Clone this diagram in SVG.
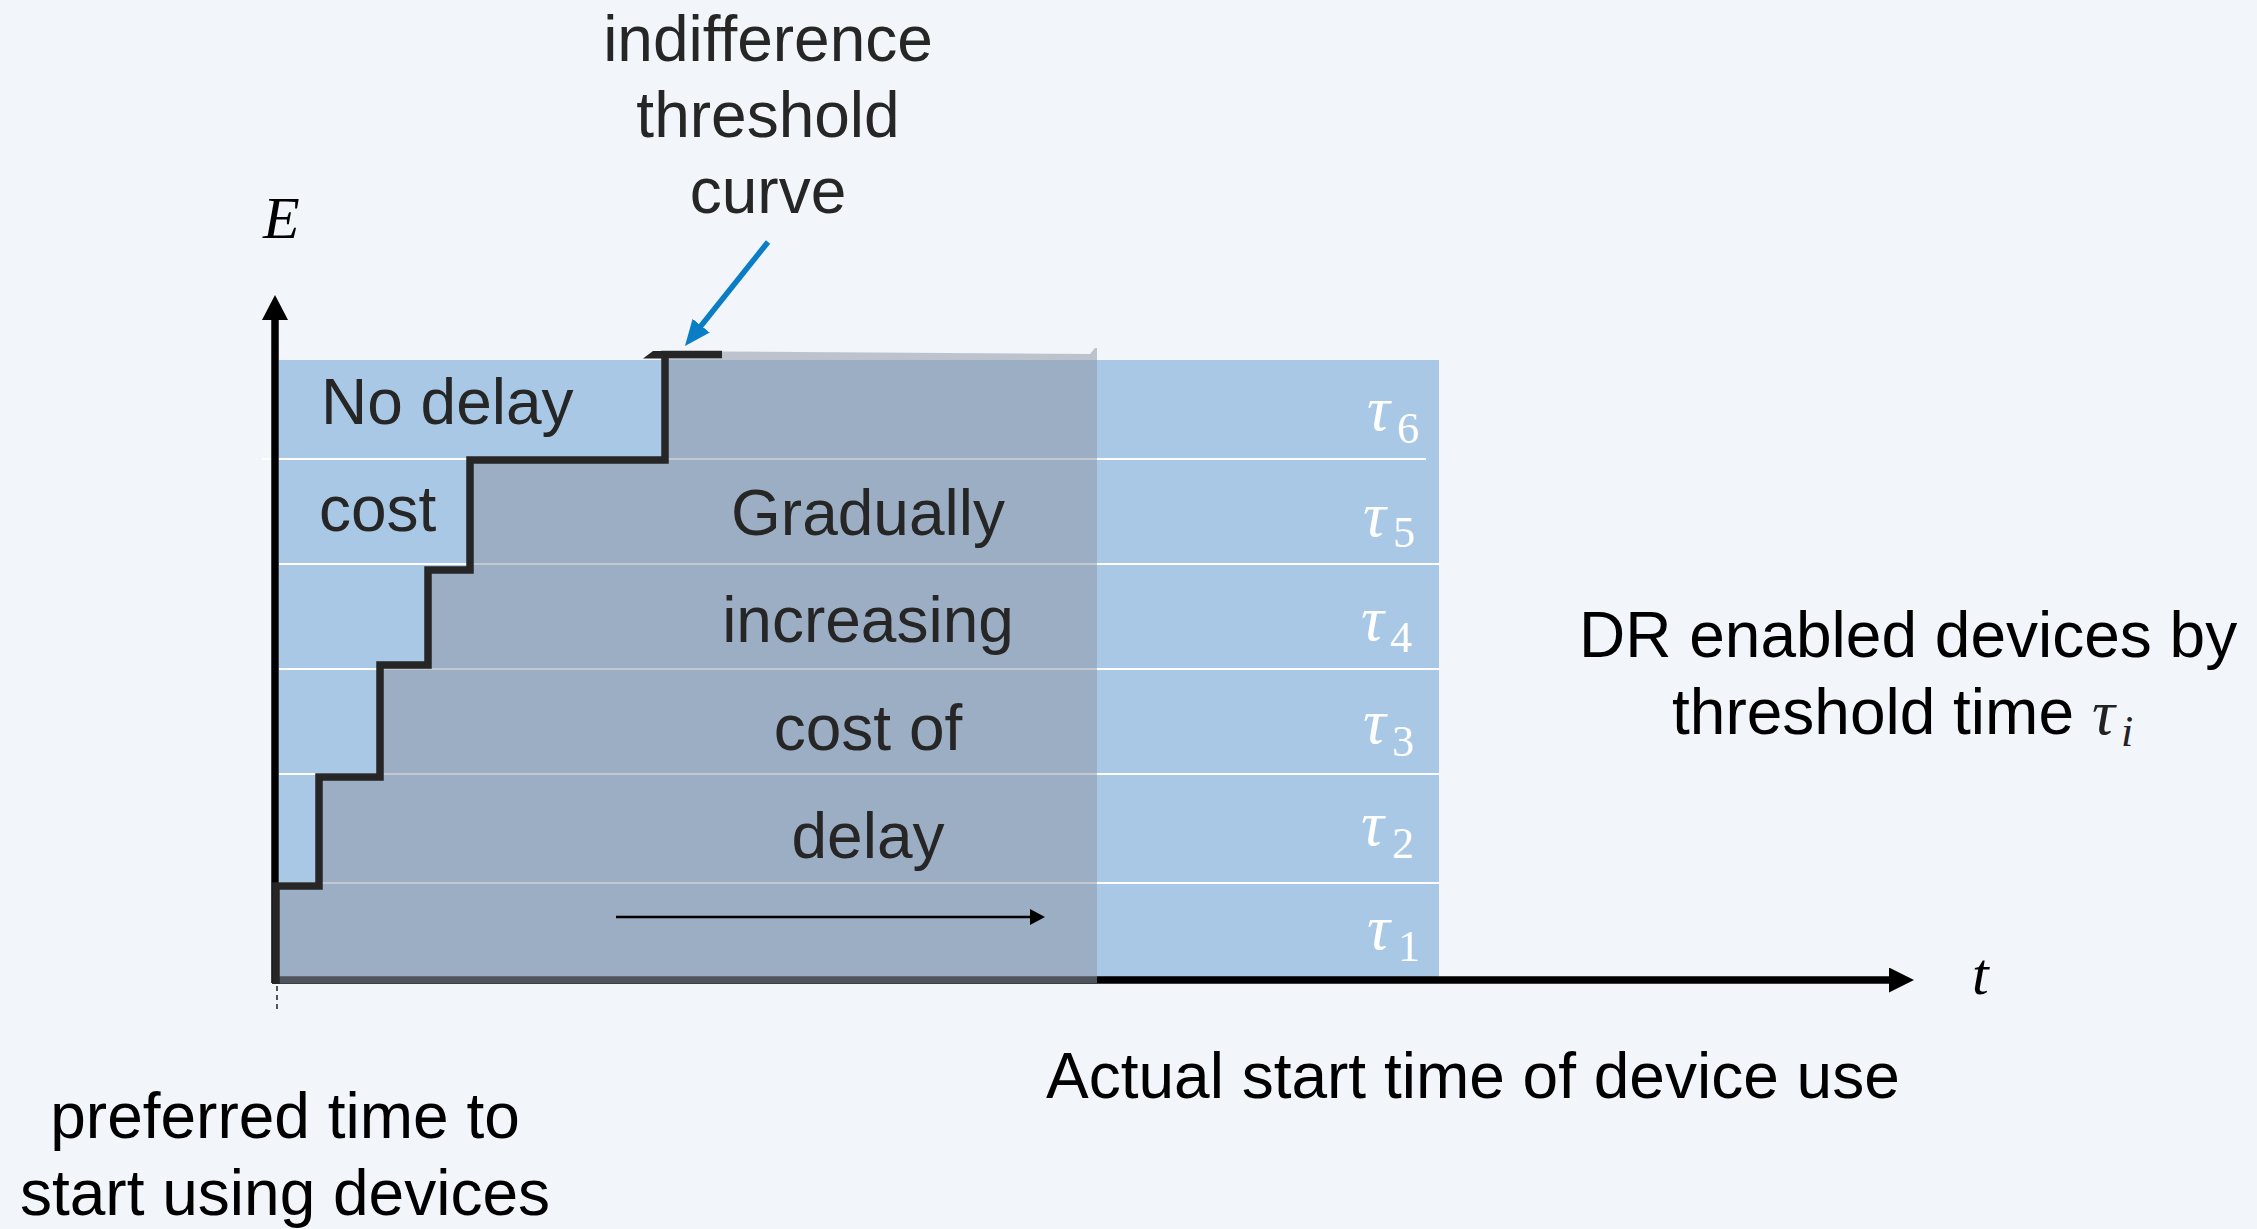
<svg xmlns="http://www.w3.org/2000/svg" width="2257" height="1229" viewBox="0 0 2257 1229">
  <style>
    .lbl { font-family: "Liberation Sans", Arial, sans-serif; font-size: 64px; }
    .dark { fill: #262626; }
    .black { fill: #000000; }
    .mid { text-anchor: middle; }
    .math { font-family: "Liberation Serif", "DejaVu Serif", serif; font-style: italic; }
    .tau { font-family: "Liberation Serif", "DejaVu Serif", serif; font-style: italic; font-size: 64px; fill: #ffffff; }
    .sub { font-family: "Liberation Serif", "DejaVu Serif", serif; font-size: 44px; fill: #ffffff; }
    .row { stroke: #ffffff; stroke-width: 2; }
    .stairs { fill: none; stroke: #262626; stroke-width: 7.5; stroke-linejoin: miter; stroke-linecap: butt; }
  </style>
  <defs>
    <marker id="axisHeadX" markerUnits="userSpaceOnUse" markerWidth="25" markerHeight="25" refX="6" refY="12.5" orient="auto">
      <path d="M0,0 L25,12.5 L0,25 z" fill="#000000"/>
    </marker>
    <marker id="axisHeadY" markerUnits="userSpaceOnUse" markerWidth="25" markerHeight="26" refX="5" refY="13" orient="auto">
      <path d="M0,0 L25,13 L0,26 z" fill="#000000"/>
    </marker>
    <marker id="smallHead" markerUnits="userSpaceOnUse" markerWidth="15" markerHeight="16" refX="2" refY="8" orient="auto">
      <path d="M0,0 L15,8 L0,16 z" fill="#000000"/>
    </marker>
    <marker id="blueHead" markerUnits="userSpaceOnUse" markerWidth="26" markerHeight="22" refX="4" refY="11" orient="auto">
      <path d="M0,0 L26,11 L0,22 z" fill="#0A7DC5"/>
    </marker>
  </defs>

  <!-- page background -->
  <rect x="0" y="0" width="2257" height="1229" fill="#F2F5F9"/>

  <!-- device bands by threshold time -->
  <g id="bands">
    <rect x="279" y="360" width="1160" height="617" fill="#A8C8E6"/>
    <line class="row" x1="262" y1="459" x2="1426" y2="459"/>
    <line class="row" x1="279" y1="564" x2="1439" y2="564"/>
    <line class="row" x1="279" y1="669" x2="1439" y2="669"/>
    <line class="row" x1="279" y1="774" x2="1439" y2="774"/>
    <line class="row" x1="279" y1="883" x2="1439" y2="883"/>
  </g>

  <!-- axes and connectors -->
  <g id="connectors">
    <line id="x-axis" x1="272" y1="980" x2="1895" y2="980" stroke="#000000" stroke-width="7.5" marker-end="url(#axisHeadX)"/>
    <line id="y-axis" x1="275" y1="983" x2="275" y2="315" stroke="#000000" stroke-width="7.5" marker-end="url(#axisHeadY)"/>
    <line id="origin-tick" x1="277" y1="986" x2="277" y2="1010" stroke="#555555" stroke-width="2" stroke-dasharray="5 4"/>
  </g>

  <!-- delay-cost region (translucent shading bounded by the staircase) -->
  <g id="delay-region">
    <polygon points="276,983 276,886 319,886 319,777 380,777 380,665 428,665 428,570 470,570 470,460 665,460 665,352 722,351.5 1090,354 1095,348 1097,348 1097,983" fill="rgb(146,153,168)" fill-opacity="0.55"/>
  </g>

  <!-- indifference threshold curve -->
  <g id="threshold-curve">
    <path class="stairs" d="M276,984 V886 H319 V777 H380 V665 H428 V570 H470 V460 H665 V354.5 H722"/>
    <polygon points="643,358.5 653,351 666,351 666,358.5" fill="#262626"/>
  </g>

  <g id="connectors-inner">
    <line x1="616" y1="917" x2="1032" y2="917" stroke="#000000" stroke-width="2.5" marker-end="url(#smallHead)"/>
    <line x1="768" y1="242" x2="698.7" y2="328.8" stroke="#0A7DC5" stroke-width="5.5" marker-end="url(#blueHead)"/>
  </g>

  <!-- labels -->
  <g id="label-indifference">
    <text class="lbl dark mid" x="768" y="61">indifference</text>
    <text class="lbl dark mid" x="768" y="137">threshold</text>
    <text class="lbl dark mid" x="768" y="213">curve</text>
  </g>

  <g id="label-axis-E">
    <text class="math" x="263" y="238" font-size="60" fill="#000000">E</text>
  </g>
  <g id="label-axis-t">
    <text class="math" x="1972" y="994" font-size="60" fill="#000000">t</text>
  </g>

  <g id="label-no-delay">
    <text class="lbl dark" x="321" y="424">No delay</text>
    <text class="lbl dark" x="319" y="531">cost</text>
  </g>

  <g id="label-gradual">
    <text class="lbl dark mid" x="868" y="535">Gradually</text>
    <text class="lbl dark mid" x="868" y="642">increasing</text>
    <text class="lbl dark mid" x="868" y="750">cost of</text>
    <text class="lbl dark mid" x="868" y="858">delay</text>
  </g>

  <g id="tau-labels">
    <text class="tau" x="1367" y="430">τ</text><text class="sub" x="1397" y="443">6</text>
    <text class="tau" x="1363" y="536">τ</text><text class="sub" x="1393" y="547">5</text>
    <text class="tau" x="1361" y="640">τ</text><text class="sub" x="1390" y="652">4</text>
    <text class="tau" x="1363" y="743">τ</text><text class="sub" x="1392" y="756">3</text>
    <text class="tau" x="1361" y="845">τ</text><text class="sub" x="1392" y="858">2</text>
    <text class="tau" x="1367" y="949">τ</text><text class="sub" x="1398" y="961">1</text>
  </g>

  <g id="label-dr-devices">
    <text class="lbl black" x="1579" y="657">DR enabled devices by</text>
    <text class="lbl black" x="1672" y="734">threshold time</text>
    <text class="math" x="2092" y="734" font-size="64" fill="#222222">τ</text>
    <text class="math" x="2121" y="746" font-size="44" fill="#222222">i</text>
  </g>

  <g id="label-actual-start">
    <text class="lbl black" x="1046" y="1098">Actual start time of device use</text>
  </g>

  <g id="label-preferred">
    <text class="lbl black mid" x="285" y="1138">preferred time to</text>
    <text class="lbl black mid" x="285" y="1215">start using devices</text>
  </g>
</svg>
